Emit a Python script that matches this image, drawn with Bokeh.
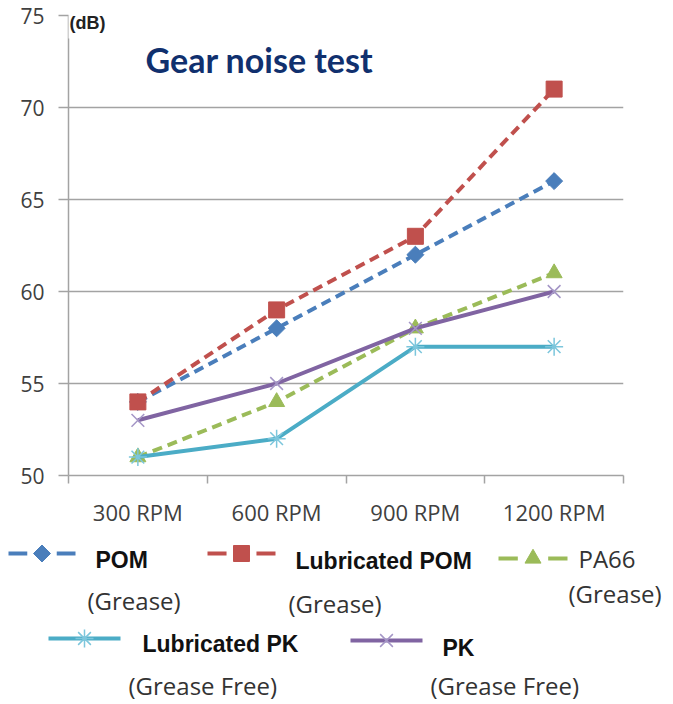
import math
from bokeh.plotting import figure
from bokeh.layouts import column
from bokeh.models import Range1d, FixedTicker, Label, ColumnDataSource
from bokeh.core.properties import value
from bokeh.embed import file_html
from bokeh.resources import INLINE

# ---- data ----
categories = ["300 RPM", "600 RPM", "900 RPM", "1200 RPM"]
pom = [54, 58, 62, 66]
lub_pom = [54, 59, 63, 71]
pa66 = [51, 54, 58, 61]
lub_pk = [51, 52, 57, 57]
pk = [53, 55, 58, 60]
y_ticks = [50, 55, 60, 65, 70, 75]
series_names = ["POM", "Lubricated POM", "PA66", "Lubricated PK", "PK"]
series_notes = ["(Grease)", "(Grease)", "(Grease)", "(Grease Free)", "(Grease Free)"]

# ---- styles ----
colors = ["#4a7ebb", "#c0504d", "#9bbb59", "#4bacc6", "#8064a2"]
marker_colors = ["#4a7ebb", "#c0504d", "#9bbb59", "#7cc6dc", "#a496c6"]
markers = ["square", "square", "triangle", "asterisk", "x"]
marker_angles = [math.pi / 4, 0, 0, 0, 0]
marker_sizes = [12, 16, 16, 18, 18]
dashes = ["10 6", "10 6", "10 6", "solid", "solid"]
grid_col = "#a3a3a3"

W, H1, H2 = 665, 530, 172

xs = [i + 0.5 for i in range(len(categories))]
bounds = list(range(len(categories) + 1))
src = ColumnDataSource(dict(x=xs, pom=pom, lub_pom=lub_pom, pa66=pa66, lub_pk=lub_pk, pk=pk))
fields = ["pom", "lub_pom", "pa66", "lub_pk", "pk"]

p = figure(width=W, height=H1, x_range=Range1d(0, len(categories)), y_range=Range1d(50, 75),
           output_backend="svg", toolbar_location=None, frame_align=False,
           min_border_left=68, min_border_right=W - 623, min_border_top=15, min_border_bottom=55)
p.outline_line_color = None
p.xgrid.grid_line_color = None
p.ygrid.grid_line_color = grid_col
p.ygrid.grid_line_width = 1.5

p.yaxis.ticker = FixedTicker(ticks=y_ticks)
p.yaxis.axis_line_color = grid_col
p.yaxis.axis_line_width = 1.5
p.yaxis.major_tick_line_color = grid_col
p.yaxis.major_tick_line_width = 1.5
p.yaxis.major_tick_out = 10
p.yaxis.major_tick_in = 0
p.yaxis.minor_tick_line_color = None
p.yaxis.major_label_text_font = "Open Sans"
p.yaxis.major_label_text_font_size = "21px"
p.yaxis.major_label_text_color = "#404040"
p.yaxis.major_label_standoff = 14

p.xaxis.ticker = FixedTicker(ticks=xs, minor_ticks=bounds)
p.xaxis.major_label_overrides = {x: c for x, c in zip(xs, categories)}
p.xaxis.axis_line_color = grid_col
p.xaxis.axis_line_width = 1.5
p.xaxis.major_tick_line_color = None
p.xaxis.major_tick_out = 0
p.xaxis.major_tick_in = 0
p.xaxis.minor_tick_line_color = grid_col
p.xaxis.minor_tick_line_width = 1.5
p.xaxis.minor_tick_out = 8
p.xaxis.minor_tick_in = 0
p.xaxis.major_label_text_font = "Open Sans"
p.xaxis.major_label_text_font_size = "22px"
p.xaxis.major_label_text_color = "#404040"
p.xaxis.major_label_standoff = 13

for f, c, mc, m, a, s, d in zip(fields, colors, marker_colors, markers, marker_angles, marker_sizes, dashes):
    p.line("x", f, source=src, line_color=c, line_width=4, line_dash=d)
    if m in ("asterisk", "x"):
        p.scatter("x", f, source=src, marker=m, size=s, line_color=mc, line_width=1.5)
    else:
        p.scatter("x", f, source=src, marker=m, size=s, angle=a, fill_color=c, line_color=c)

p.add_layout(Label(x=0, y=75, x_offset=-5, y_offset=-7, text="(dB)", text_font="Liberation Sans",
                   text_font_style="bold", text_font_size="18px", text_color="#222222",
                   text_baseline="middle", background_fill_color="white", padding=6))
p.add_layout(Label(x=0, y=75, x_offset=77, y_offset=-44, text="Gear noise test", text_font="Lato",
                   text_font_style="bold", text_font_size="34px", text_color="#10306e",
                   text_baseline="middle"))

# ---- legend figure ----
q = figure(width=W, height=H2, x_range=Range1d(0, W), y_range=Range1d(H2, 0),
           output_backend="svg", toolbar_location=None, frame_align=False,
           min_border_left=0, min_border_right=0, min_border_top=0, min_border_bottom=0)
q.axis.visible = False
q.grid.visible = False
q.outline_line_color = None

sw_x0 = [8, 207, 498, 48, 350]
sw_len = [67, 68, 69, 72, 72]
sw_y = [23, 23, 28, 108, 110]
name_x = [95, 295, 578, 142, 442]
name_y = [29, 30, 28, 113, 117]
note_x = [87, 288, 568, 128, 430]
note_y = [70, 73, 63, 155, 155]
name_bold = [True, True, False, True, True]

for i in range(len(series_names)):
    x0, L, y = sw_x0[i], sw_len[i], sw_y[i]
    if dashes[i] != "solid":
        dl = L * 0.28
        q.segment(x0=[x0, x0 + L - dl], y0=[y, y], x1=[x0 + dl, x0 + L], y1=[y, y],
                  line_color=colors[i], line_width=4)
    else:
        q.line([x0, x0 + L], [y, y], line_color=colors[i], line_width=4)
    mx = x0 + L / 2
    if markers[i] in ("asterisk", "x"):
        q.scatter([mx], [y], marker=markers[i], size=marker_sizes[i], line_color=marker_colors[i], line_width=1.5)
    else:
        q.scatter([mx], [y], marker=markers[i], size=marker_sizes[i], angle=marker_angles[i],
                  fill_color=colors[i], line_color=colors[i])
    if name_bold[i]:
        q.text([name_x[i]], [name_y[i]], text=[series_names[i]], text_font=value("Liberation Sans"),
               text_font_style="bold", text_font_size="23px", text_color="#111111",
               text_baseline="middle", text_align="left")
    else:
        q.text([name_x[i]], [name_y[i]], text=[series_names[i]], text_font=value("Open Sans"),
               text_font_size="24px", text_color="#333333", text_baseline="middle", text_align="left")
    q.text([note_x[i]], [note_y[i]], text=[series_notes[i]], text_font=value("Open Sans"),
           text_font_size="24px", text_color="#333333", text_baseline="middle", text_align="left")

layout = column(p, q, spacing=0)
open("out.html", "w").write(file_html(layout, INLINE))
